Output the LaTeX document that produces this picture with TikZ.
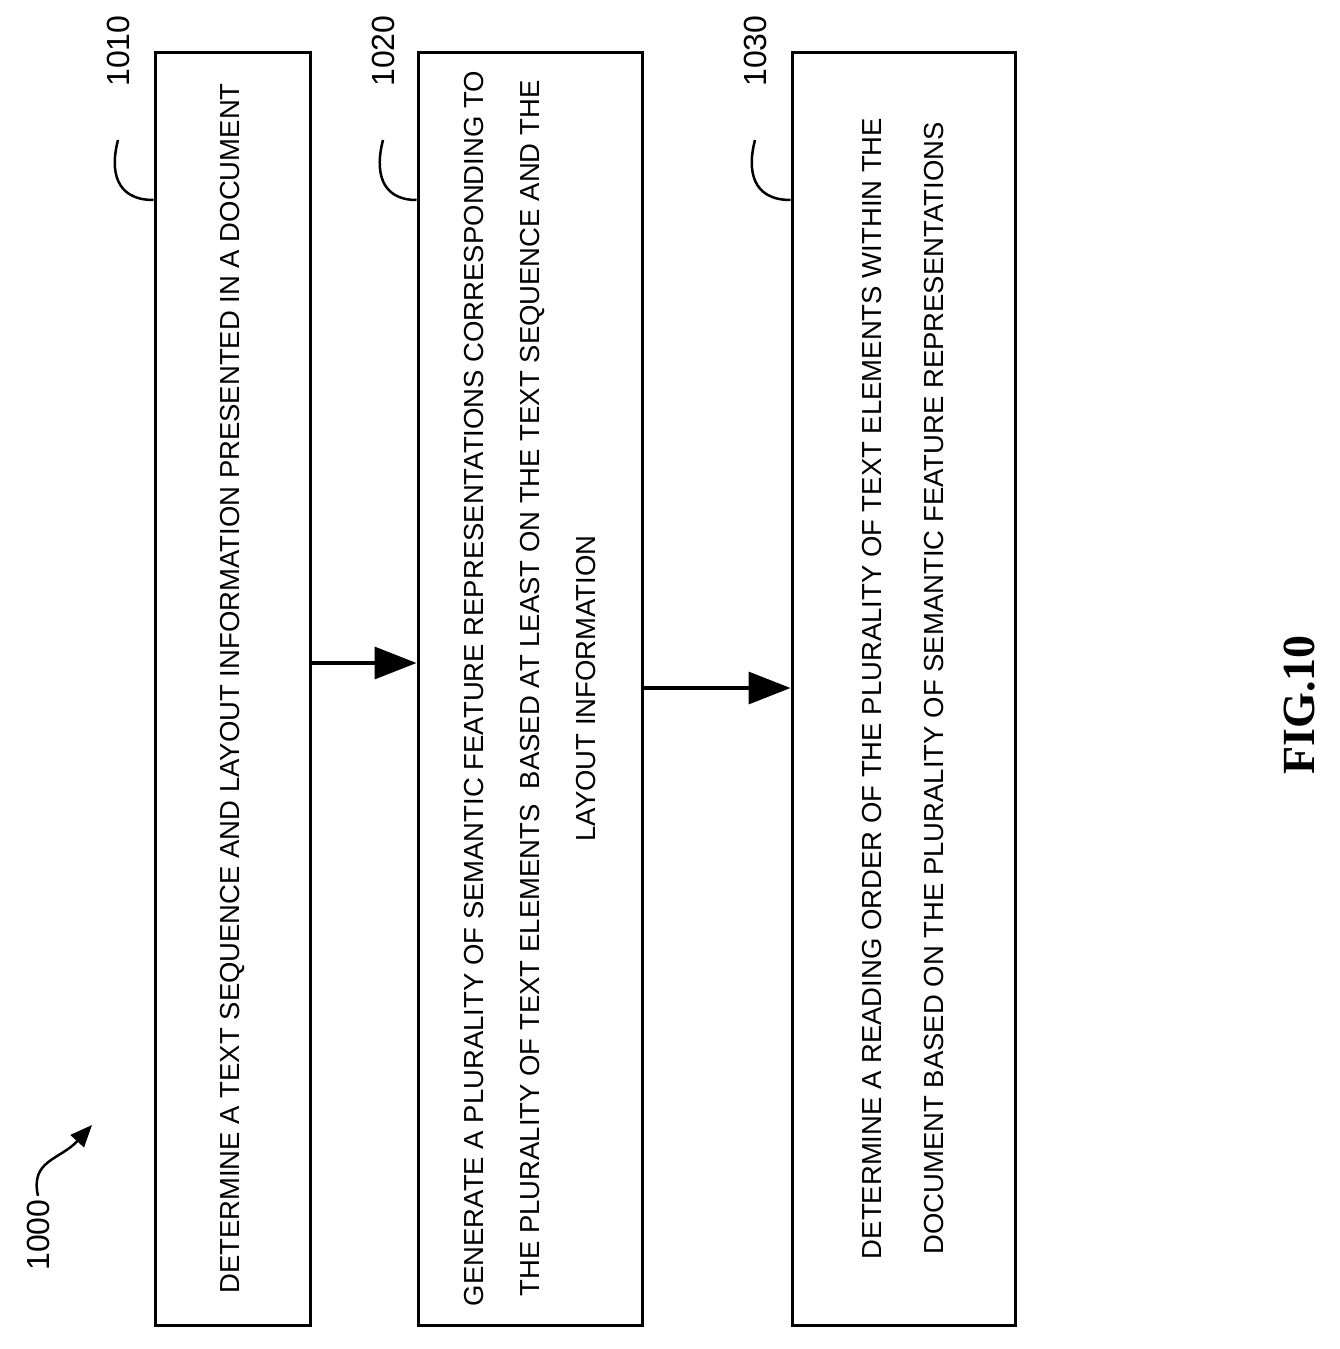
\documentclass[tikz,border=0pt]{standalone}
\usepackage{fontspec}
\setmainfont{Liberation Sans}
\newfontfamily\figfont{Liberation Serif}
\usetikzlibrary{arrows.meta}
\tikzset{
  stepbox/.style={draw, line width=3pt, rotate=90, minimum width=1273pt, align=center,
    font=\fontsize{27.5}{58}\selectfont, inner sep=0pt},
  ref/.style={rotate=90, font=\fontsize{32}{36}\selectfont, anchor=east},
  lead/.style={line width=2.5pt},
  flow/.style={line width=3.5pt, -{Triangle[length=42pt,width=32pt]}}
}
\begin{document}
\begin{tikzpicture}[x=1pt,y=-1pt]
\useasboundingbox (0,0) rectangle (1340,1349);
% steps
\node[stepbox, minimum height=155pt] (b1) at (232.5,688.5) {DETERMINE A TEXT SEQUENCE AND LAYOUT INFORMATION PRESENTED IN A DOCUMENT};
\node[stepbox, minimum height=224pt, font=\fontsize{27.5}{56}\selectfont] (b2) at (530,688.5) {GENERATE A PLURALITY OF SEMANTIC FEATURE REPRESENTATIONS CORRESPONDING TO\\THE PLURALITY OF TEXT ELEMENTS \ BASED AT LEAST ON THE TEXT SEQUENCE AND THE\\LAYOUT INFORMATION};
\node[stepbox, minimum height=223pt, font=\fontsize{27.5}{62}\selectfont] (b3) at (903.5,688.5) {DETERMINE A READING ORDER OF THE PLURALITY OF TEXT ELEMENTS WITHIN THE\\DOCUMENT BASED ON THE PLURALITY OF SEMANTIC FEATURE REPRESENTATIONS};
% reference labels
\node[ref] (r1) at (118,12) {1010};
\node[ref] (r2) at (383,12) {1020};
\node[ref] (r3) at (755,12) {1030};
\coordinate (t1) at (118,140);
\coordinate (t2) at (383,140);
\coordinate (t3) at (755,140);
\draw[lead] (b1.north |- 0,200) .. controls (115,200) and (110,170) .. (t1);
\draw[lead] (b2.north |- 0,200) .. controls (380,200) and (375,170) .. (t2);
\draw[lead] (b3.north |- 0,200) .. controls (752,200) and (747,170) .. (t3);
% arrows
\draw[flow] (b1.south |- 0,663) -- (b2.north |- 0,663);
\draw[flow] (b2.south |- 0,688) -- (b3.north |- 0,688);
% figure number
\node[ref, anchor=center] (r0) at (38,1235) {1000};
\coordinate (p0) at (92,1125);
\draw[lead, -{Triangle[length=22pt,width=18pt]}] (r0.east) .. controls (30,1160) and (60,1160) .. (p0);
\node[rotate=90, font=\figfont\bfseries\fontsize{46}{50}\selectfont] (fig) at (1300,705) {FIG.10};
\end{tikzpicture}
\end{document}
